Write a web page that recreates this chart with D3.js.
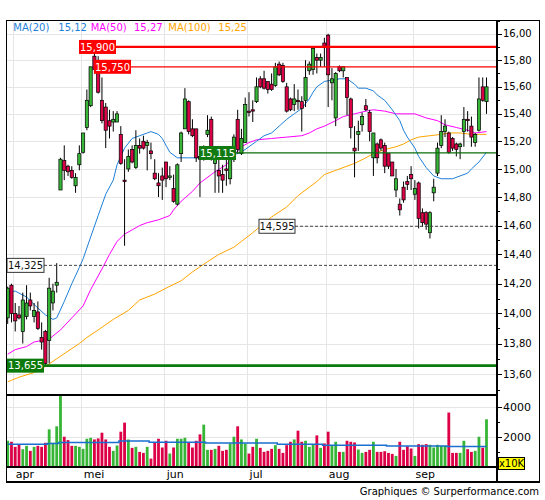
<!DOCTYPE html>
<html><head><meta charset="utf-8">
<script src="https://cdn.jsdelivr.net/npm/d3@7"></script>
<style>body{margin:0;background:#fff}svg{display:block}text{font-family:"DejaVu Sans",Verdana,sans-serif}</style>
</head><body><svg id="c" width="545" height="500"></svg>
<script>
// ---------- data ----------
const opens  = [13.97,14.19,14.00,13.99,13.88,13.98,14.09,13.98,14.01,13.84,13.88,13.82,14.07,14.19,14.85,15.06,15.02,14.99,14.88,15.03,15.12,15.30,15.46,15.83,15.75,15.50,15.45,15.35,15.34,15.34,15.25,14.92,15.00,15.14,15.01,15.17,15.20,15.17,15.13,14.97,14.90,14.95,15.05,14.94,14.86,14.75,15.11,15.29,15.49,15.29,15.29,15.09,15.08,15.25,15.36,15.04,14.99,14.96,15.00,14.93,15.07,15.36,15.11,15.19,15.42,15.43,15.49,15.66,15.66,15.64,15.62,15.61,15.77,15.76,15.60,15.51,15.47,15.50,15.49,15.50,15.72,15.73,15.82,15.80,15.93,15.99,15.63,15.37,15.75,15.72,15.67,15.51,15.15,15.25,15.32,15.46,15.41,15.08,15.18,15.21,15.17,15.11,15.05,14.85,14.75,14.87,14.91,14.96,14.82,14.90,14.69,14.69,14.55,14.83,14.97,15.17,15.27,15.26,15.22,15.18,15.16,15.27,15.36,15.31,15.19,15.28,15.60,15.49];
const highs  = [14.18,14.20,14.07,14.05,14.14,14.19,14.14,14.07,14.08,13.94,13.89,14.24,14.20,14.34,15.08,15.17,15.03,15.02,14.97,15.17,15.26,15.58,15.75,15.90,15.83,15.67,15.48,15.43,15.42,15.42,15.31,15.07,15.14,15.17,15.28,15.22,15.24,15.21,15.19,15.07,14.97,15.01,15.05,15.02,14.96,15.04,15.27,15.59,15.50,15.36,15.29,15.15,15.17,15.39,15.38,15.12,15.07,15.03,15.09,15.11,15.25,15.43,15.29,15.52,15.56,15.50,15.67,15.68,15.72,15.64,15.70,15.78,15.79,15.78,15.63,15.52,15.62,15.58,15.53,15.80,15.79,15.90,15.85,15.85,15.97,16.00,15.74,15.71,15.76,15.75,15.67,15.52,15.31,15.35,15.41,15.51,15.43,15.26,15.19,15.22,15.19,15.11,15.05,15.00,14.79,14.91,14.95,15.02,14.92,14.91,14.72,14.70,14.70,14.93,15.19,15.39,15.36,15.27,15.23,15.19,15.19,15.45,15.42,15.38,15.26,15.67,15.67,15.67];
const lows   = [13.93,13.94,13.88,13.96,13.80,13.96,14.02,13.94,13.89,13.76,13.655,13.67,14.02,14.14,14.85,14.92,14.95,14.93,14.83,14.99,15.11,15.28,15.45,15.70,15.55,15.33,15.15,15.22,15.27,15.34,15.03,14.46,14.98,15.04,15.00,15.11,15.14,14.99,15.07,14.92,14.80,14.78,14.87,14.92,14.76,14.74,15.05,15.29,15.25,15.23,15.05,14.80,15.06,15.23,15.06,14.83,14.83,14.83,14.88,14.89,15.05,15.11,15.10,15.19,15.38,15.34,15.48,15.59,15.58,15.55,15.57,15.60,15.68,15.63,15.41,15.42,15.42,15.43,15.27,15.45,15.69,15.69,15.70,15.75,15.75,15.45,15.50,15.31,15.71,15.67,15.39,15.22,14.94,15.13,15.27,15.42,15.20,14.95,15.04,15.13,14.97,15.00,14.95,14.80,14.67,14.76,14.85,14.85,14.78,14.58,14.59,14.57,14.51,14.77,14.95,15.15,15.23,15.11,15.13,15.09,15.07,15.16,15.27,15.16,15.16,15.27,15.49,15.40];
const closes = [14.17,14.00,13.95,13.97,14.09,14.07,14.05,14.02,13.90,13.81,13.67,14.17,14.15,14.21,15.07,14.99,14.98,14.94,14.94,15.11,15.26,15.50,15.75,15.73,15.56,15.35,15.28,15.31,15.36,15.40,15.04,14.91,15.09,15.05,15.17,15.15,15.15,15.19,15.11,14.93,14.88,14.92,14.93,14.95,14.77,15.03,15.26,15.51,15.27,15.24,15.08,15.07,15.16,15.28,15.09,15.08,14.95,14.92,14.99,15.07,15.23,15.14,15.22,15.47,15.41,15.42,15.60,15.60,15.59,15.58,15.58,15.75,15.69,15.64,15.42,15.43,15.51,15.49,15.44,15.67,15.77,15.89,15.80,15.82,15.90,15.69,15.66,15.70,15.72,15.75,15.52,15.30,15.13,15.27,15.38,15.43,15.27,15.26,15.08,15.15,15.02,15.02,14.95,14.93,14.71,14.78,14.89,14.93,14.86,14.65,14.62,14.61,14.69,14.87,15.15,15.27,15.31,15.12,15.15,15.14,15.18,15.36,15.35,15.23,15.25,15.51,15.50,15.60];
const volumes = [1763,1695,1356,1514,1198,1424,1085,1356,1424,1356,1627,2531,1627,2735,4850,2034,1808,1424,1424,1356,1220,1898,1966,1853,1921,2305,1853,1356,1085,1446,2373,2983,1853,1288,1356,1017,949,1356,565,1627,1898,1311,1763,904,1311,1898,1898,1966,1627,1311,1763,2192,2848,1153,1153,1220,1424,1085,1153,1582,2034,2735,1853,1582,904,1356,1898,1288,1017,1085,1220,1469,1220,949,1469,1695,1853,2441,1695,1763,1356,1514,2124,1288,1582,2373,1469,1695,1017,1017,1763,1695,1650,1175,949,1017,1153,1695,1017,1017,1062,949,881,746,1695,1153,1401,1243,746,1537,1492,1537,1492,1311,1492,1424,1424,3661,949,949,949,1763,1198,1017,1085,2034,1300,3209];
const volAvg = [1537,1537,1537,1537,1537,1537,1537,1537,1537,1537,1537,1582,1582,1582,1650,1650,1650,1650,1650,1650,1650,1650,1650,1650,1650,1650,1650,1650,1650,1650,1740,1740,1740,1740,1740,1740,1740,1740,1672,1672,1672,1672,1672,1672,1672,1672,1672,1672,1672,1672,1672,1672,1672,1605,1605,1605,1605,1605,1605,1605,1605,1605,1605,1605,1605,1605,1605,1605,1605,1605,1605,1605,1537,1537,1537,1537,1537,1537,1537,1537,1537,1537,1537,1537,1470,1470,1470,1470,1470,1470,1470,1470,1470,1470,1470,1470,1470,1470,1470,1470,1470,1420,1420,1420,1420,1420,1420,1420,1420,1420,1420,1420,1420,1420,1420,1420,1420,1380,1380,1380,1380,1380,1380,1380,1380,1380,1380,1380];
// moving averages: [day index, value]
const ma20 = [[0,14.14],[2,14.15],[5,14.11],[7,14.06],[10,13.99],[12,13.96],[13,13.97],[15,14.08],[17,14.20],[19,14.31],[20,14.37],[22,14.52],[24,14.67],[26,14.82],[28,14.92],[29,15.03],[31,15.15],[33,15.22],[35,15.24],[37,15.26],[38,15.27],[40,15.25],[41,15.22],[42,15.17],[43,15.12],[45,15.08],[48,15.08],[50,15.08],[55,15.09],[61,15.11],[63,15.14],[66,15.20],[68,15.24],[70,15.26],[72,15.31],[74,15.36],[76,15.40],[78,15.44],[80,15.51],[81,15.56],[82,15.60],[84,15.64],[86,15.65],[88,15.66],[90,15.66],[92,15.62],[93,15.59],[95,15.59],[97,15.57],[98,15.54],[100,15.50],[102,15.43],[104,15.35],[105,15.28],[106,15.23],[108,15.15],[109,15.09],[111,15.01],[113,14.95],[115,14.93],[116,14.93],[118,14.93],[120,14.95],[122,14.97],[123,15.00],[125,15.05],[127,15.12]];
const ma50 = [[0,13.73],[2,13.76],[5,13.78],[7,13.81],[9,13.82],[11,13.83],[12,13.85],[14,13.89],[17,13.97],[20,14.05],[22,14.16],[25,14.30],[27,14.40],[29,14.49],[31,14.54],[33,14.57],[35,14.60],[37,14.62],[40,14.64],[43,14.67],[44,14.71],[46,14.77],[49,14.84],[51,14.90],[54,14.96],[55,14.98],[58,15.03],[60,15.10],[62,15.16],[64,15.19],[66,15.21],[70,15.22],[74,15.23],[78,15.24],[80,15.26],[82,15.29],[84,15.31],[87,15.35],[89,15.38],[92,15.40],[95,15.42],[97,15.43],[100,15.42],[103,15.40],[108,15.40],[111,15.37],[114,15.35],[116,15.32],[119,15.30],[122,15.28],[124,15.26],[127,15.27]];
const ma100 = [[0,13.55],[1,13.56],[3,13.58],[7,13.61],[10,13.65],[13,13.70],[16,13.75],[19,13.80],[21,13.84],[24,13.89],[28,13.96],[32,14.02],[35,14.09],[39,14.13],[42,14.17],[46,14.22],[49,14.28],[53,14.35],[56,14.40],[60,14.45],[62,14.49],[65,14.55],[70,14.66],[74,14.73],[77,14.81],[80,14.87],[82,14.91],[84,14.96],[87,14.99],[90,15.02],[92,15.04],[95,15.08],[97,15.11],[100,15.14],[103,15.16],[105,15.18],[107,15.21],[109,15.23],[112,15.24],[115,15.25],[117,15.26],[120,15.26],[123,15.25],[127,15.25]];
const legendNames = ["MA(20)","MA(50)","MA(100)"];
const legendValues = ["15,12","15,27","15,25"];
const months = ["apr","mei","jun","jul","aug","sep"];
const monthStart = [2,20,42,64,85,108];
const priceTicks = [13.6,13.8,14.0,14.2,14.4,14.6,14.8,15.0,15.2,15.4,15.6,15.8,16.0];
const priceMinor = [13.5,13.7,13.9,14.1,14.3,14.5,14.7,14.9,15.1,15.3,15.5,15.7,15.9,16.1];
const volTicks = [2000,4000];
const volMinor = [1000,3000];
const levelValues = [15.9,15.75,15.115,14.595,14.325,13.655];
const levelLabels = ["15,900","15,750","15,115","14,595","14,325","13,655"];
const footer = "Graphiques © Surperformance.com";

// ---------- layout / style ----------
const L=7, R=497, TOP=20, MAINB=395, VOLB=467, BOT=482, OUTR=539.5;
const svg = d3.select("#c");
const x = d3.scaleLinear().domain([0,127]).range([7.7,486.5]);
const y = d3.scaleLog().domain([13.465,16.106]).range([MAINB,TOP]);
const yv = d3.scaleLinear().domain([0,4840]).range([VOLB,MAINB]);
const GREEN="#37b537", RED="#dc0046", GRID="#e6e6e6";
const half = (x(1)-x(0))/2;

const clipM = svg.append("clipPath").attr("id","cm").append("rect").attr("x",L).attr("y",TOP).attr("width",R-L).attr("height",MAINB-TOP);
const clipV = svg.append("clipPath").attr("id","cv").append("rect").attr("x",L).attr("y",MAINB).attr("width",R-L).attr("height",VOLB-MAINB);

// grid
const g = svg.append("g").attr("shape-rendering","crispEdges");
g.selectAll(".hg").data(priceTicks).join("line").attr("x1",L).attr("x2",R)
  .attr("y1",d=>Math.round(y(d))+0.5).attr("y2",d=>Math.round(y(d))+0.5).attr("stroke",GRID);
g.selectAll(".vg").data(volTicks).join("line").attr("x1",L).attr("x2",R)
  .attr("y1",d=>Math.round(yv(d))+0.5).attr("y2",d=>Math.round(yv(d))+0.5).attr("stroke",GRID);
g.selectAll(".mg").data(monthStart).join("line")
  .attr("x1",d=>Math.round(x(d)-half)+0.5).attr("x2",d=>Math.round(x(d)-half)+0.5)
  .attr("y1",TOP).attr("y2",VOLB).attr("stroke",GRID);

// legend
const legColors=["#1e7fd8","#ff00ff","#ffa500"];
const legX=[[13.3,58.3],[90.7,134],[168.3,218.3]];
legendNames.forEach((n,i)=>{
  svg.append("text").attr("x",legX[i][0]).attr("y",31).attr("font-size",10).attr("fill",legColors[i]).text(n);
  svg.append("text").attr("x",legX[i][1]).attr("y",31).attr("font-size",10).attr("fill",legColors[i]).text(legendValues[i]);
});

// moving averages
const mline = d3.line().x(d=>x(d[0])).y(d=>y(d[1]));
const mg = svg.append("g").attr("clip-path","url(#cm)");
[[ma100,"#ffa500"],[ma50,"#ff00ff"],[ma20,"#1e7fd8"]].forEach(([d,c])=>{
  mg.append("path").attr("d",mline(d)).attr("fill","none").attr("stroke",c).attr("stroke-width",1);
});

// levels
const lvStyle=[
 {x0:79,w:37,fill:"#ff0000",tc:"#fff",lc:"#ff0000",lw:2.2,dash:null},
 {x0:94,w:37,fill:"#ff0000",tc:"#fff",lc:"#ff0000",lw:1.2,dash:null},
 {x0:199,w:37,fill:"#117a11",tc:"#fff",lc:"#0a6e0a",lw:1.2,dash:null},
 {x0:259,w:36,fill:"#fff",tc:"#111",lc:"#444",lw:1,dash:"3,2",stroke:"#333"},
 {x0:7,w:37,fill:"#fff",tc:"#111",lc:"#444",lw:1,dash:"3,2",stroke:"#333"},
 {x0:7,w:37,fill:"#0b7a0b",tc:"#fff",lc:"#0b7a0b",lw:2.6,dash:null}
];
const lg = svg.append("g");
levelValues.forEach((v,i)=>{
  const s=lvStyle[i], yy=y(v);
  lg.append("line").attr("x1",s.x0+s.w).attr("x2",R).attr("y1",yy).attr("y2",yy)
    .attr("stroke",s.lc).attr("stroke-width",s.lw).attr("stroke-dasharray",s.dash);
});

// candles
const idx = d3.range(opens.length);
const cg = svg.append("g").attr("clip-path","url(#cm)");
cg.selectAll(".w").data(idx).join("line")
  .attr("x1",i=>x(i)).attr("x2",i=>x(i)).attr("y1",i=>y(highs[i])).attr("y2",i=>y(lows[i]))
  .attr("stroke","#000").attr("stroke-width",1);
cg.selectAll(".b").data(idx).join("rect")
  .attr("x",i=>x(i)-1.6).attr("width",3.2)
  .attr("y",i=>y(Math.max(opens[i],closes[i])))
  .attr("height",i=>Math.max(1,Math.abs(y(opens[i])-y(closes[i]))))
  .attr("fill",i=>closes[i]>=opens[i]?GREEN:RED).attr("stroke","#000").attr("stroke-width",0.7);

// level labels (on top)
levelValues.forEach((v,i)=>{
  const s=lvStyle[i], yy=y(v);
  lg.append("rect").attr("x",s.x0).attr("y",yy-7).attr("width",s.w).attr("height",14)
    .attr("fill",s.fill).attr("stroke",s.stroke||"none").attr("stroke-width",1);
  lg.append("text").attr("x",s.x0+s.w/2).attr("y",yy+3.8).attr("text-anchor","middle")
    .attr("font-size",10).attr("fill",s.tc).text(levelLabels[i]);
});
lg.raise();

// volume
const vg = svg.append("g").attr("clip-path","url(#cv)");
vg.selectAll(".v").data(idx).join("rect")
  .attr("x",i=>x(i)-1.4).attr("width",2.8)
  .attr("y",i=>yv(volumes[i])).attr("height",i=>VOLB-yv(volumes[i]))
  .attr("fill",i=>closes[i]>=opens[i]?GREEN:RED);
vg.append("path").attr("d",d3.line().x(i=>x(i)).y(i=>yv(volAvg[i])).curve(d3.curveStep)(idx))
  .attr("fill","none").attr("stroke","#1a6fd0").attr("stroke-width",1.5);

// frame & axes
const f = svg.append("g").attr("shape-rendering","crispEdges");
f.append("rect").attr("x",6.5).attr("y",20.5).attr("width",OUTR-6.5).attr("height",BOT-20.5)
  .attr("fill","none").attr("stroke","#000").attr("stroke-width",1.5);
f.append("line").attr("x1",R).attr("x2",R).attr("y1",TOP).attr("y2",BOT).attr("stroke","#000").attr("stroke-width",1.5);
f.append("line").attr("x1",L).attr("x2",R).attr("y1",MAINB).attr("y2",MAINB).attr("stroke","#000").attr("stroke-width",1.5);
f.append("line").attr("x1",L).attr("x2",R).attr("y1",VOLB).attr("y2",VOLB).attr("stroke","#000").attr("stroke-width",1.5);

const fmt = d=>d.toFixed(2).replace(".",",");
f.selectAll(".pt").data(priceTicks).join("line").attr("x1",R).attr("x2",R+5)
  .attr("y1",d=>Math.round(y(d))+0.5).attr("y2",d=>Math.round(y(d))+0.5).attr("stroke","#000");
f.selectAll(".pm").data(priceMinor).join("line").attr("x1",R).attr("x2",R+3)
  .attr("y1",d=>Math.round(y(d))+0.5).attr("y2",d=>Math.round(y(d))+0.5).attr("stroke","#000");
svg.selectAll(".pl").data(priceTicks).join("text").attr("x",503).attr("y",d=>y(d)+3.6)
  .attr("font-size",10).attr("fill","#000").text(fmt);

f.selectAll(".vt").data(volTicks).join("line").attr("x1",R).attr("x2",R+5)
  .attr("y1",d=>Math.round(yv(d))+0.5).attr("y2",d=>Math.round(yv(d))+0.5).attr("stroke","#000");
f.selectAll(".vm").data(volMinor).join("line").attr("x1",R).attr("x2",R+3)
  .attr("y1",d=>Math.round(yv(d))+0.5).attr("y2",d=>Math.round(yv(d))+0.5).attr("stroke","#000");
svg.selectAll(".vl").data(volTicks).join("text").attr("x",503).attr("y",d=>yv(d)+4)
  .attr("font-size",11).attr("fill","#000").text(d=>d);
svg.append("rect").attr("x",498.5).attr("y",457.5).attr("width",26).attr("height",12)
  .attr("fill","#ffff00").attr("stroke","#000").attr("stroke-width",1);
svg.append("text").attr("x",511.5).attr("y",467.3).attr("text-anchor","middle").attr("font-size",10).text("x10K");

// month labels
svg.selectAll(".ml").data(months).join("text")
  .attr("x",(d,i)=>x(monthStart[i])-half+2.5).attr("y",478)
  .attr("font-size",11).attr("fill","#000").text(d=>d);

svg.append("text").attr("x",539).attr("y",494.5).attr("text-anchor","end").attr("font-size",10).attr("fill","#000").text(footer);
</script></body></html>
